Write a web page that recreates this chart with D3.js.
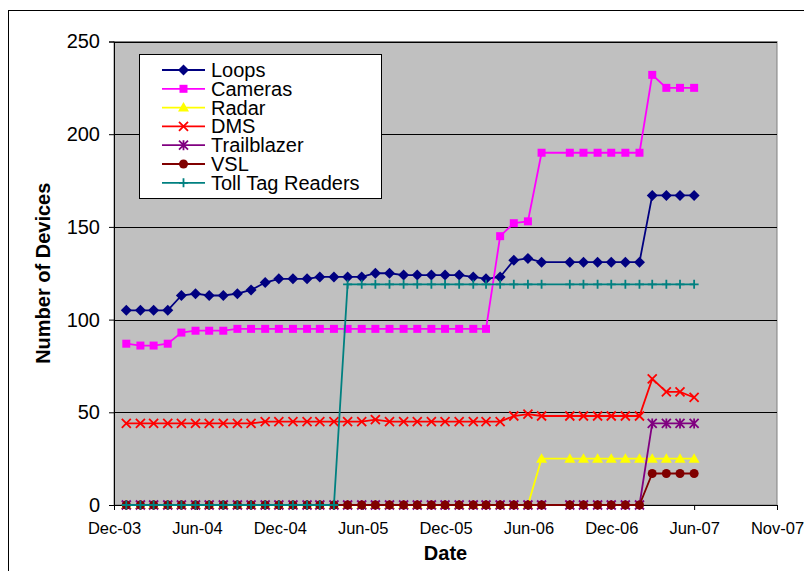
<!doctype html>
<html lang="en">
<head>
    <meta charset="utf-8">
    <title>Number of Devices</title>
    <script src="https://cdn.jsdelivr.net/npm/d3@7"></script>
    <style>
        body { margin: 0; background: #ffffff; }
        svg { display: block; font-family: "Liberation Sans", Arial, sans-serif; }
    </style>
</head>
<body>
    <svg></svg>
    <script>
        var width = 804;
        var height = 571;

        // monthly collection dates (1st of month), no data for Aug-06
        var dates = [
            "2004-01", "2004-02", "2004-03", "2004-04", "2004-05", "2004-06",
            "2004-07", "2004-08", "2004-09", "2004-10", "2004-11", "2004-12",
            "2005-01", "2005-02", "2005-03", "2005-04", "2005-05", "2005-06",
            "2005-07", "2005-08", "2005-09", "2005-10", "2005-11", "2005-12",
            "2006-01", "2006-02", "2006-03", "2006-04", "2006-05", "2006-06",
            "2006-07", "2006-09", "2006-10", "2006-11", "2006-12",
            "2007-01", "2007-02", "2007-03", "2007-04", "2007-05", "2007-06"
        ];

        var loops = [105, 105, 105, 105, 113, 114, 113, 113, 114, 116, 120, 122,
            122, 122, 123, 123, 123, 123, 125, 125, 124, 124, 124, 124,
            124, 123, 122, 123, 132, 133, 131, 131, 131, 131, 131,
            131, 131, 167, 167, 167, 167];
        var cameras = [87, 86, 86, 87, 93, 94, 94, 94, 95, 95, 95, 95,
            95, 95, 95, 95, 95, 95, 95, 95, 95, 95, 95, 95,
            95, 95, 95, 145, 152, 153, 190, 190, 190, 190, 190,
            190, 190, 232, 225, 225, 225];
        var radar = [0, 0, 0, 0, 0, 0, 0, 0, 0, 0, 0, 0,
            0, 0, 0, 0, 0, 0, 0, 0, 0, 0, 0, 0,
            0, 0, 0, 0, 0, 0, 25, 25, 25, 25, 25,
            25, 25, 25, 25, 25, 25];
        var dms = [44, 44, 44, 44, 44, 44, 44, 44, 44, 44, 45, 45,
            45, 45, 45, 45, 45, 45, 46, 45, 45, 45, 45, 45,
            45, 45, 45, 45, 48, 49, 48, 48, 48, 48, 48,
            48, 48, 68, 61, 61, 58];
        var trailblazer = [0, 0, 0, 0, 0, 0, 0, 0, 0, 0, 0, 0,
            0, 0, 0, 0, 0, 0, 0, 0, 0, 0, 0, 0,
            0, 0, 0, 0, 0, 0, 0, 0, 0, 0, 0,
            0, 0, 44, 44, 44, 44];
        var vsl = [0, 0, 0, 0, 0, 0, 0, 0, 0, 0, 0, 0,
            0, 0, 0, 0, 0, 0, 0, 0, 0, 0, 0, 0,
            0, 0, 0, 0, 0, 0, 0, 0, 0, 0, 0,
            0, 0, 17, 17, 17, 17];
        var tollTags = [0, 0, 0, 0, 0, 0, 0, 0, 0, 0, 0, 0,
            0, 0, 0, 0, 119, 119, 119, 119, 119, 119, 119, 119,
            119, 119, 119, 119, 119, 119, 119, 119, 119, 119, 119,
            119, 119, 119, 119, 119, 119];

        var seriesNames = ["Loops", "Cameras", "Radar", "DMS", "Trailblazer", "VSL", "Toll Tag Readers"];
        var yTicks = [0, 50, 100, 150, 200, 250];

        var series = [
            { name: seriesNames[0], values: loops, color: "#000080", marker: "diamond" },
            { name: seriesNames[1], values: cameras, color: "#ff00ff", marker: "square" },
            { name: seriesNames[2], values: radar, color: "#ffff00", marker: "triangle" },
            { name: seriesNames[3], values: dms, color: "#ff0000", marker: "x" },
            { name: seriesNames[4], values: trailblazer, color: "#800080", marker: "star" },
            { name: seriesNames[5], values: vsl, color: "#800000", marker: "circle" },
            { name: seriesNames[6], values: tollTags, color: "#008080", marker: "plus" }
        ];

        var parseMonth = d3.timeParse("%Y-%m");
        var xDates = dates.map(parseMonth);

        // plot area
        var plotLeft = 114, plotRight = 777, plotTop = 41.5, plotBottom = 505;

        // axis runs from 5 Dec 2003 with a tick every 182 days
        var xStart = new Date(2003, 11, 5);
        var xTicks = d3.range(9).map(function (i) { return d3.timeDay.offset(xStart, i * 182); });

        var xScale = d3.scaleTime()
            .domain([xStart, xTicks[8]])
            .range([plotLeft, plotRight]);

        var yScale = d3.scaleLinear()
            .domain([0, 250])
            .range([plotBottom, plotTop]);

        var svg = d3.select('svg').attr('width', width).attr('height', height);

        // chart area border
        svg.append('rect')
            .attr('x', 8.5).attr('y', 10.5)
            .attr('width', 820).attr('height', 590)
            .attr('fill', '#fff').attr('stroke', '#000');

        svg.append('rect')
            .attr('x', plotLeft).attr('y', plotTop)
            .attr('width', plotRight - plotLeft).attr('height', plotBottom - plotTop)
            .attr('fill', '#c0c0c0').attr('stroke', '#808080');

        // gridlines
        svg.append('g')
            .selectAll('line')
            .data(yTicks.slice(1))
            .enter()
            .append('line')
            .attr('x1', plotLeft).attr('x2', plotRight)
            .attr('y1', function (d) { return Math.round(yScale(d)) + 0.5; })
            .attr('y2', function (d) { return Math.round(yScale(d)) + 0.5; })
            .attr('stroke', '#000').attr('stroke-width', 1);

        // axes
        var xAxis = d3.axisBottom(xScale)
            .tickValues(xTicks)
            .tickFormat(d3.timeFormat("%b-%y"))
            .tickSize(5)
            .tickPadding(12);

        var yAxis = d3.axisLeft(yScale)
            .tickValues(yTicks)
            .tickSize(5)
            .tickPadding(9);

        var gx = svg.append('g')
            .attr('transform', 'translate(0,' + plotBottom + ')')
            .call(xAxis);
        gx.select('.domain').attr('stroke', '#000');
        gx.selectAll('text').attr('font-size', '16.5px').attr('fill', '#000').attr('font-family', null);

        var gy = svg.append('g')
            .attr('transform', 'translate(' + plotLeft + ',0)')
            .call(yAxis);
        gy.select('.domain').attr('stroke', '#000');
        gy.selectAll('text').attr('font-size', '20px').attr('fill', '#000').attr('font-family', null);

        // markers
        function markerPath(type) {
            if (type === "diamond") return "M0,-5.5L5.5,0L0,5.5L-5.5,0Z";
            if (type === "square") return d3.symbol(d3.symbolSquare, 64)();
            if (type === "triangle") return "M0,-5.5L5.5,4L-5.5,4Z";
            if (type === "circle") return d3.symbol(d3.symbolCircle, 64)();
            if (type === "x") return "M-4.5,-4.5L4.5,4.5M-4.5,4.5L4.5,-4.5";
            if (type === "plus") return "M-4.5,0L4.5,0M0,-4.5L0,4.5";
            return "M-4.5,-4.5L4.5,4.5M-4.5,4.5L4.5,-4.5M0,-5L0,5";
        }
        function isStroked(type) {
            return type === "x" || type === "plus" || type === "star";
        }

        var line = d3.line()
            .x(function (d) { return xScale(d.date); })
            .y(function (d) { return yScale(d.value); });

        series.forEach(function (s) {
            var points = s.values.map(function (v, i) { return { date: xDates[i], value: v }; });
            var g = svg.append('g');
            g.append('path')
                .datum(points)
                .attr('d', line)
                .attr('fill', 'none')
                .attr('stroke', s.color)
                .attr('stroke-width', 1.8);
            g.selectAll('path.mark')
                .data(points)
                .enter()
                .append('path')
                .attr('class', 'mark')
                .attr('d', markerPath(s.marker))
                .attr('transform', function (d) { return 'translate(' + xScale(d.date) + ',' + yScale(d.value) + ')'; })
                .attr('fill', isStroked(s.marker) ? 'none' : s.color)
                .attr('stroke', isStroked(s.marker) ? s.color : 'none')
                .attr('stroke-width', 1.8);
        });

        // legend
        var legend = svg.append('g');
        legend.append('rect')
            .attr('x', 139.5).attr('y', 54.5)
            .attr('width', 242).attr('height', 144)
            .attr('fill', '#fff').attr('stroke', '#000');

        var items = legend.selectAll('g.item')
            .data(series)
            .enter()
            .append('g')
            .attr('class', 'item')
            .attr('transform', function (d, i) { return 'translate(0,' + (70 + i * 18.8) + ')'; });
        items.append('line')
            .attr('x1', 162).attr('x2', 205)
            .attr('stroke', function (d) { return d.color; })
            .attr('stroke-width', 1.8);
        items.append('path')
            .attr('d', function (d) { return markerPath(d.marker); })
            .attr('transform', 'translate(183.5,0)')
            .attr('fill', function (d) { return isStroked(d.marker) ? 'none' : d.color; })
            .attr('stroke', function (d) { return isStroked(d.marker) ? d.color : 'none'; })
            .attr('stroke-width', 1.8);
        items.append('text')
            .attr('x', 211).attr('y', 7)
            .attr('font-size', '20px')
            .text(function (d) { return d.name; });

        // axis titles
        svg.append('text')
            .attr('x', (plotLeft + plotRight) / 2).attr('y', 560)
            .attr('text-anchor', 'middle')
            .attr('font-size', '20px').attr('font-weight', 'bold')
            .text('Date');

        svg.append('text')
            .attr('transform', 'translate(50,' + ((plotTop + plotBottom) / 2) + ') rotate(-90)')
            .attr('text-anchor', 'middle')
            .attr('font-size', '20px').attr('font-weight', 'bold')
            .text('Number of Devices');
    </script>
</body>
</html>
